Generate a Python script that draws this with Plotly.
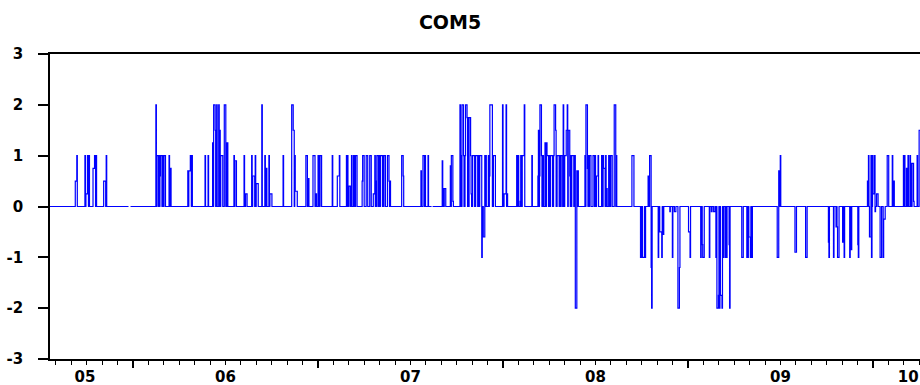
import numpy as np
import pandas as pd
import plotly.graph_objects as go

# ---------------- data ----------------
series_name = "COM5"
start_date = "2005-07-21"
end_date = "2010-04-06"

# observations that differ from 0 (decimal year, value)
event_years = [
    2005.687, 2005.692, 2005.741, 2005.746, 2005.751, 2005.757, 2005.762, 2005.784, 2005.789, 2005.795,
    2005.800, 2005.843, 2005.849, 2005.854,
    2006.123, 2006.130, 2006.141, 2006.146, 2006.151, 2006.159, 2006.168, 2006.191, 2006.197, 2006.202,
    2006.297, 2006.303, 2006.308, 2006.313, 2006.319, 2006.389, 2006.403,
    2006.430, 2006.437, 2006.445, 2006.452, 2006.460, 2006.468, 2006.475, 2006.483, 2006.497, 2006.505, 2006.509,
    2006.546, 2006.551, 2006.600, 2006.607, 2006.611, 2006.640, 2006.646, 2006.651, 2006.659, 2006.665, 2006.670,
    2006.695, 2006.710, 2006.715, 2006.720, 2006.735, 2006.741, 2006.746, 2006.812,
    2006.859, 2006.864, 2006.868, 2006.873, 2006.877, 2006.882, 2006.935, 2006.948,
    2006.975, 2006.982, 2006.989, 2006.996, 2007.004, 2007.011, 2007.076, 2007.103, 2007.108, 2007.116,
    2007.151, 2007.159, 2007.166, 2007.174, 2007.181, 2007.189, 2007.197, 2007.204,
    2007.238, 2007.245, 2007.263, 2007.281,
    2007.299, 2007.305, 2007.313, 2007.320, 2007.328, 2007.336, 2007.343, 2007.350, 2007.358, 2007.377, 2007.384, 2007.389,
    2007.454, 2007.461, 2007.557, 2007.566, 2007.578, 2007.593,
    2007.669, 2007.676, 2007.681, 2007.686, 2007.716, 2007.721, 2007.727,
    2007.764, 2007.771, 2007.779, 2007.786, 2007.794, 2007.798, 2007.805, 2007.811, 2007.816, 2007.824, 2007.828,
    2007.836, 2007.843, 2007.851, 2007.858, 2007.866, 2007.873, 2007.881, 2007.885, 2007.889, 2007.893, 2007.900, 2007.907,
    2007.920, 2007.926, 2007.930, 2007.935, 2007.940, 2007.947, 2007.953,
    2007.998, 2008.005, 2008.011, 2008.016, 2008.021,
    2008.074, 2008.081, 2008.089, 2008.096, 2008.104, 2008.109, 2008.115, 2008.155,
    2008.185, 2008.191, 2008.196, 2008.201, 2008.209, 2008.216, 2008.223, 2008.228, 2008.234, 2008.241, 2008.249,
    2008.257, 2008.264, 2008.272, 2008.277, 2008.283, 2008.291, 2008.299, 2008.306, 2008.314,
    2008.326, 2008.332, 2008.338, 2008.343, 2008.347, 2008.353, 2008.359, 2008.365, 2008.372, 2008.380, 2008.387,
    2008.393, 2008.398, 2008.404, 2008.443, 2008.452, 2008.457, 2008.463, 2008.470,
    2008.488, 2008.496, 2008.501, 2008.507, 2008.514, 2008.533, 2008.541, 2008.546, 2008.554, 2008.559, 2008.567,
    2008.574, 2008.581, 2008.605, 2008.613, 2008.696, 2008.700, 2008.704,
    2008.740, 2008.748, 2008.755, 2008.763, 2008.769, 2008.785, 2008.791, 2008.796, 2008.800, 2008.804,
    2008.839, 2008.846, 2008.851, 2008.858, 2008.865, 2008.902, 2008.912, 2008.930, 2008.944, 2008.951,
    2009.005, 2009.011, 2009.065, 2009.070, 2009.076, 2009.081, 2009.115, 2009.127, 2009.136,
    2009.151, 2009.158, 2009.164, 2009.169, 2009.176, 2009.182, 2009.191, 2009.200, 2009.209, 2009.218, 2009.224,
    2009.290, 2009.317, 2009.324, 2009.330, 2009.337, 2009.344,
    2009.485, 2009.490, 2009.494, 2009.499, 2009.578, 2009.638,
    2009.758, 2009.763, 2009.785, 2009.800, 2009.805, 2009.812, 2009.836, 2009.843,
    2009.870, 2009.878, 2009.883, 2009.917, 2009.921,
    2009.969, 2009.974, 2009.980, 2009.985, 2009.991, 2009.996, 2010.001, 2010.007, 2010.012, 2010.018, 2010.023,
    2010.038, 2010.054, 2010.058, 2010.077, 2010.101, 2010.108, 2010.113,
    2010.164, 2010.171, 2010.178, 2010.184, 2010.189, 2010.200, 2010.205, 2010.211, 2010.218, 2010.236, 2010.250,
]
event_values = [
    0.5, 1, 1, 0.25, 1, 0.25, 1, 0.75, 1, 0.75,
    1, 0.5, 0.5, 1,
    2, 1, 1, 0.6, 1, 1, 1, 1, 0.75, 0.75,
    0.7, 0.7, 1, 0.7, 1, 1, 1,
    1.25, 2, 1.5, 2, 2, 1.5, 1, 1, 2, 1.25, 1.25,
    1, 0.9, 1, 0.25, 0.25, 1, 0.6, 0.6, 1, 0.45, 0.45,
    2, 1, 0.75, 0.75, 1, 0.25, 0.25, 1,
    2, 1.5, 1.5, 1, 0.3, 0.3, 1, 0.55,
    1, 1, 0.25, 1, 1, 1, 1, 0.6, 0.6, 1,
    1, 1, 0.4, 0.4, 1, 1, 1, 1,
    0.5, 1, 1, 1,
    0.25, 1, 0.5, 1, 1, 1, 1, 1, 1, 1, 0.5, 0.5,
    1, 0.6, 0.7, 1, 1, 1,
    0.9, 0.35, 2, 0.35, 0.8, 1, 0.1,
    2, 1, 2, 1, 1, 2, 1.75, 1.75, 1.75, 1, 0.25,
    1, 1, 1, 1, 1, 1, 1, -1, -0.6, -0.6, 1, 1,
    1, 0.6, 2, 2, 2, 1, 1,
    2, 0.25, 0.25, 2, 0.25,
    1, 1, 0.1, 1, 1, 1, 2, 1,
    0.6, 1.5, 0.6, 2, 1, 1, 2, 1.25, 1.25, 1, 1,
    1, 1, 1, 2, 1.5, 1, 1, 1, 1,
    2, 1, 1.5, 1.5, 2, 1.5, 0.6, 1, 1, 1, 1,
    -2, 0.7, 0.7, 1, 2, 0.75, 1, 1,
    1, 1, 0.6, 0.6, 1, 1, 1, 0.75, 1, 0.35, 1,
    1, 1, 2, 1, 1, 1, 1,
    -1, -1, -1, -1, -1, 0.6, 0.6, 1, -1.2, -2,
    -1, -0.5, -0.5, -1, -0.55, -0.1, -1, -0.1, -2, -1.2,
    -0.5, -1, -1, -0.75, -0.75, -1, -1, -0.1, -0.1,
    -1, -2, -1.75, -2, -1.75, -2, -1, -1, -1, -0.75, -2,
    -1, -1, -1, -0.6, -1, -1,
    -1, 0.7, 0.7, 1, -0.9, -1,
    -0.7, -1, -1, -0.4, -0.4, -1, -0.7, -1,
    -1, -0.85, -0.85, -0.75, -1,
    0.5, 1, -0.6, 1, -1, 1, 0.25, 1, -0.1, 2, 0.25,
    -1, -1, -0.25, 1, 1, 0.5, 0.5,
    1, 1, 0.75, 0.75, 1, 1, 0.85, 0.85, 0.1, 1, 1.5,
]
missing_years = [2005.984, 2007.617]

year_labels = ["05", "06", "07", "08", "09", "10"]
y_ticks = [-3, -2, -1, 0, 1, 2, 3]
y_tick_text = ["-3", "-2", "-1", "0", "1", "2", "3"]

# ---------------- build daily series ----------------
dates = pd.bdate_range(start_date, end_date)
days_in_year = np.where(dates.is_leap_year, 366.0, 365.0)
t = dates.year.values + (dates.dayofyear.values - 1) / days_in_year
vals = np.zeros(len(t))
for yr, v in zip(event_years, event_values):
    vals[int(np.argmin(np.abs(t - yr)))] = v
for yr in missing_years:
    vals[int(np.argmin(np.abs(t - yr)))] = np.nan

x_range = [2005.551, 2010.254]
label_pos = [2005.74, 2006.5, 2007.5, 2008.5, 2009.5, 2010.19]

fig = go.Figure()
fig.add_trace(go.Scatter(x=t, y=vals, mode="lines",
                         line=dict(color="#0000FF", width=1.2, shape="hv"),
                         connectgaps=False, showlegend=False, hoverinfo="skip"))
fig.add_trace(go.Scatter(x=label_pos, y=[None] * len(label_pos), xaxis="x2", mode="lines",
                         showlegend=False, hoverinfo="skip"))

tick_font = dict(family="DejaVu Sans", size=15, color="black", weight="bold")

fig.update_layout(
    width=920, height=385,
    margin=dict(l=50, r=0, t=54, b=26),
    paper_bgcolor="white", plot_bgcolor="white",
    title=dict(text=series_name, x=450 / 920, xref="container", xanchor="center",
               y=1 - 22 / 385, yref="container", yanchor="middle",
               font=dict(family="DejaVu Sans", size=19, color="black", weight="bold")),
    xaxis=dict(range=x_range, showline=True, linecolor="black", linewidth=1.5, mirror=True,
               tickmode="linear", tick0=2006, dtick=1, ticks="outside", ticklen=7, tickwidth=1.5,
               tickcolor="black", showticklabels=False, showgrid=False, zeroline=False,
               minor=dict(ticks="outside", ticklen=4, tickwidth=1, tickcolor="black",
                          tick0=2006, dtick=1 / 12, showgrid=False)),
    xaxis2=dict(range=x_range, overlaying="x", anchor="y", side="bottom",
                tickmode="array", tickvals=label_pos, ticktext=year_labels, ticks="",
                showline=False, showgrid=False, zeroline=False, tickfont=tick_font,
                ticklabelstandoff=7),
    yaxis=dict(range=[-3, 3], tickmode="array", tickvals=y_ticks, ticktext=y_tick_text,
               ticks="outside", ticklen=10,
               tickwidth=1.5, tickcolor="black", showline=True, linecolor="black", linewidth=1.5,
               showgrid=False, zeroline=False, tickfont=tick_font, ticklabelstandoff=12),
)

fig.write_html("out.html")
